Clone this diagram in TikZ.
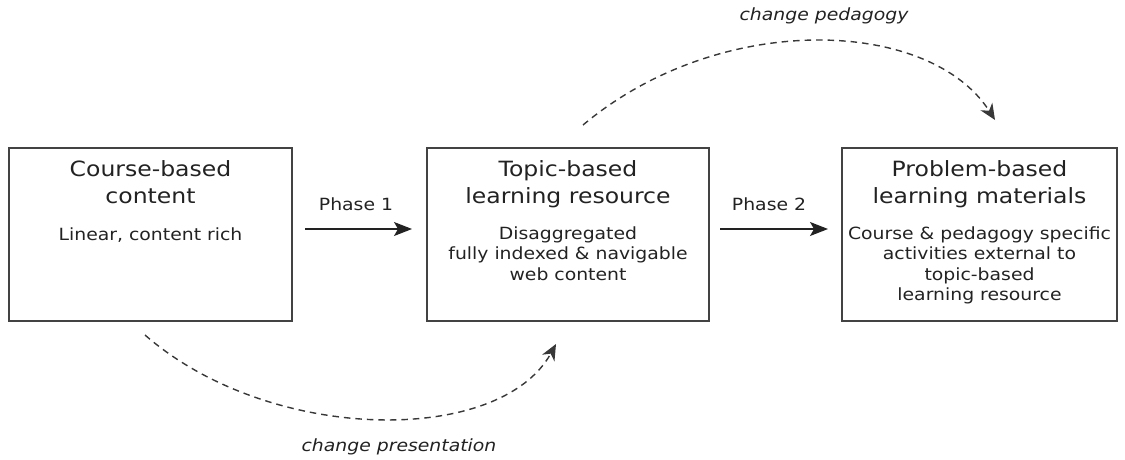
\documentclass[tikz,border=0pt]{standalone}
\usepackage{fontspec}
\setmainfont{DejaVu Sans}[FakeStretch=1.12]
\usetikzlibrary{arrows.meta}
\definecolor{ink}{HTML}{222222}
\begin{document}
\begin{tikzpicture}[x=1pt,y=-1pt,
  boxnode/.style={draw=ink!85, line width=1.2pt, minimum width=#1, minimum height=173pt, inner sep=0pt, outer sep=0pt},
  titletext/.style={text=ink, font=\fontsize{21}{27}\selectfont, align=center, inner sep=0pt, anchor=base},
  bodytext/.style={text=ink, font=\fontsize{16.8}{20.5}\selectfont, align=center, inner sep=0pt, anchor=base},
  phasearrow/.style={draw=ink, line width=1.1pt, -{Stealth[length=18pt,width=14pt,inset=4pt]}},
  dasharrow/.style={draw=ink!90, line width=1.4pt, dash pattern=on 6.5pt off 5pt, -{Stealth[length=16pt,width=14pt,inset=5pt]}},
  labeltext/.style={text=ink, font=\fontsize{16.8}{19}\selectfont, inner sep=0pt},
  curvelabel/.style={text=ink, font=\fontsize{16.8}{19}\selectfont\itshape, inner sep=0pt}]
\useasboundingbox (0,0) rectangle (1125,459);
% boxes
\node[boxnode=283pt] (b1) at (150.5,234.5) {};
\node[boxnode=282pt] (b2) at (568,234.5) {};
\node[boxnode=275pt] (b3) at (979.5,234.5) {};
% texts box 1 (anchor = baseline of last line)
\node[titletext] (t1) at (150.5,203.5) {Course-based\\content};
\node[bodytext] (s1) at (150.5,240) {Linear, content rich};
% texts box 2
\node[titletext] (t2) at (568,203.5) {Topic-based\\learning resource};
\node[bodytext] (s2) at (568,280) {Disaggregated\\fully indexed \& navigable\\web content};
% texts box 3
\node[titletext] (t3) at (979.5,203.5) {Problem-based\\learning materials};
\node[bodytext] (s3) at (979.5,300.5) {Course \& pedagogy specific\\activities external to\\topic-based\\learning resource};
% phase arrows
\draw[phasearrow, shorten <=13pt, shorten >=15pt] ([yshift=5.5pt]b1.east) -- ([yshift=5.5pt]b2.west);
\draw[phasearrow, shorten <=11pt, shorten >=14pt] ([yshift=5.5pt]b2.east) -- ([yshift=5.5pt]b3.west);
\node[labeltext] (p1) at (356,204) {Phase 1};
\node[labeltext] (p2) at (769,204) {Phase 2};
% dashed curves
\coordinate (ts) at (583,125);
\coordinate (te) at (995,120);
\draw[dasharrow] (ts) .. controls (720,10) and (930,18) .. (te);
\node[curvelabel] (cp) at (824,16) {change pedagogy};
\coordinate (bs) at (145,335);
\coordinate (be) at (556,344);
\draw[dasharrow] (bs) .. controls (270,444) and (500,446) .. (be);
\node[curvelabel] (cpr) at (399,447) {change presentation};
\end{tikzpicture}
\end{document}
